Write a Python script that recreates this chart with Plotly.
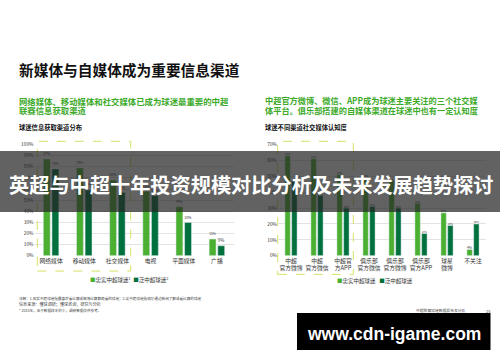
import plotly.graph_objects as go

W, H = 500, 362
def px(x): return x / W
def py(y): return 1 - y / H

FONT = "Noto Sans CJK SC"
LIGHT = "#4BAF32"
DARK = "#00703C"
GREEN_TXT = "#3DAA2A"

# ---- data ----
left_cats = ["网络媒体", "移动媒体", "社交媒体", "电视", "平面媒体", "广播"]
left_loyal = [87, 79, 68, 58, 44, 15]
left_casual = [78, 59, 57, 54, 30, 9]

right_cats = ["中超<br>官方微博", "中超<br>官方微信", "中超官<br>方APP", "俱乐部<br>官方微信",
              "俱乐部<br>官方微博", "俱乐部<br>官方APP", "球星<br>微博", "不关注"]
right_loyal = [63, 61, 51, 49, 47, 33, 27, 4]
right_casual = [47, 38, 30, 31, 30, 14, 19, 20]

left_ticks = [0, 10, 20, 30, 40, 50, 60, 70, 80, 90, 100]
right_ticks = [0, 10, 20, 30, 40, 50, 60, 70]

fig = go.Figure()

def bars(x, y, color, xa, ya):
    return go.Bar(x=x, y=y, marker_color=color, xaxis=xa, yaxis=ya,
                  text=[f"{v}%" for v in y], textposition="outside", textangle=0,
                  textfont=dict(size=5, color="#333", family=FONT),
                  cliponaxis=False, showlegend=False, hoverinfo="skip")

fig.add_trace(bars(left_cats, left_loyal, LIGHT, "x", "y"))
fig.add_trace(bars(left_cats, left_casual, DARK, "x", "y"))
fig.add_trace(bars(right_cats, right_loyal, LIGHT, "x2", "y2"))
fig.add_trace(bars(right_cats, right_casual, DARK, "x2", "y2"))

ydom = [py(256.7), py(143.3)]
axfont = dict(size=5.8, color="#333", family=FONT)
yfont = dict(size=4.8, color="#333", family=FONT)

fig.update_layout(
    width=W, height=H, margin=dict(l=0, r=0, t=0, b=0),
    paper_bgcolor="white", plot_bgcolor="white",
    barmode="group", bargap=0.48, bargroupgap=0.2,
    font=dict(family=FONT),
    xaxis=dict(domain=[px(34.5), px(233.5)], tickfont=axfont, showline=False,
               showgrid=False, ticks="", fixedrange=True),
    yaxis=dict(domain=ydom, range=[0, 100], tickvals=left_ticks,
               ticktext=[f"{t}%" for t in left_ticks], tickfont=yfont,
               showgrid=True, gridcolor="#E3E3E3", gridwidth=0.6, zeroline=False,
               showline=False),
    xaxis2=dict(domain=[px(278), px(486)], tickfont=axfont, showline=False,
                showgrid=False, ticks="", anchor="y2"),
    yaxis2=dict(domain=ydom, range=[0, 70], tickvals=right_ticks,
                ticktext=[f"{t}%" for t in right_ticks], tickfont=yfont,
                showgrid=True, gridcolor="#E3E3E3", gridwidth=0.6, zeroline=False,
                showline=False, anchor="x2"),
)

shapes = []
# dashed highlight boxes
for (x0, x1, y0, y1) in [(37.3, 130.7, 140, 272.3), (277.7, 353.3, 140, 275.7)]:
    shapes.append(dict(type="rect", xref="paper", yref="paper",
                       x0=px(x0), x1=px(x1), y0=py(y1), y1=py(y0),
                       line=dict(color="#D8E066", width=1, dash="dash"),
                       fillcolor="rgba(0,0,0,0)", layer="above"))
# banner
shapes.append(dict(type="rect", xref="paper", yref="paper", x0=0, x1=1,
                   y0=py(212), y1=py(150), line=dict(width=0),
                   fillcolor="rgba(38,38,38,0.72)", layer="above"))
# watermark box
shapes.append(dict(type="rect", xref="paper", yref="paper", x0=px(297), x1=px(490.5),
                   y0=py(352.7), y1=py(315), line=dict(width=0),
                   fillcolor="black", layer="above"))
fig.update_layout(shapes=shapes)

def ann(text, x, y, size, color="#111", xanchor="left", family=FONT):
    return dict(text=text, x=px(x), y=py(y), xref="paper", yref="paper",
                xanchor=xanchor, yanchor="middle", showarrow=False,
                font=dict(size=size, color=color, family=family), align="left")

anns = [
    ann("<b>新媒体与自媒体成为重要信息渠道</b>", 17, 67, 14.7),
    ann("<b>网络媒体、移动媒体和社交媒体已成为球迷最重要的中超</b>", 17, 98.5, 8.4, GREEN_TXT),
    ann("<b>联赛信息获取渠道</b>", 17, 108, 8.4, GREEN_TXT),
    ann("<b>中超官方微博、微信、APP成为球迷主要关注的三个社交媒</b>", 263, 98, 8.2, GREEN_TXT),
    ann("<b>体平台。俱乐部搭建的自媒体渠道在球迷中也有一定认知度</b>", 263, 108, 8.2, GREEN_TXT),
    ann("<b>球迷信息获取渠道分布</b>", 17, 126, 6.3),
    ann("<b>球迷不同渠道社交媒体认知度</b>", 263, 126, 6.3),
    ann(f"<span style='color:{LIGHT}'>■</span>忠实中超球迷<sup>1</sup>  "
        f"<span style='color:{DARK}'>■</span>泛中超球迷<sup>2</sup>", 129, 281, 5.5,
        "#333", "center"),
    ann(f"<span style='color:{LIGHT}'>■</span>忠实中超球迷   "
        f"<span style='color:{DARK}'>■</span>泛中超球迷", 375, 282, 5.5, "#333", "center"),
    ann("注释：1.忠实中超球迷指最喜欢看比赛或每场比赛都观看的球迷；2.泛中超球迷指偶尔通过新闻了解或看比赛的球迷",
        17, 300, 3.6, "#444"),
    ann("信息来源：懂球调研；懂球咨询，研究与分析", 17, 306, 4.1, "#444"),
    ann("* 2015年，由于数据样本较少，调研数据仅供参考。", 17, 313, 3.6, "#444"),
    ann("中超联赛球迷数据报告及分析", 414, 313, 3.8, "#444"),
    ann("25", 484, 313, 4, "#444"),
    ann("<b>英超与中超十年投资规模对比分析及未来发展趋势探讨</b>", 251.5, 184, 20.2, "white", "center"),
    ann("<b>www.cdn-igame.com</b>", 393.5, 336, 17.5, "white", "center", "Liberation Sans"),
]
fig.update_layout(annotations=anns)

fig.write_html("out.html", config={"displayModeBar": False},
               post_script="document.body.style.margin='0';document.body.style.overflow='hidden';")
